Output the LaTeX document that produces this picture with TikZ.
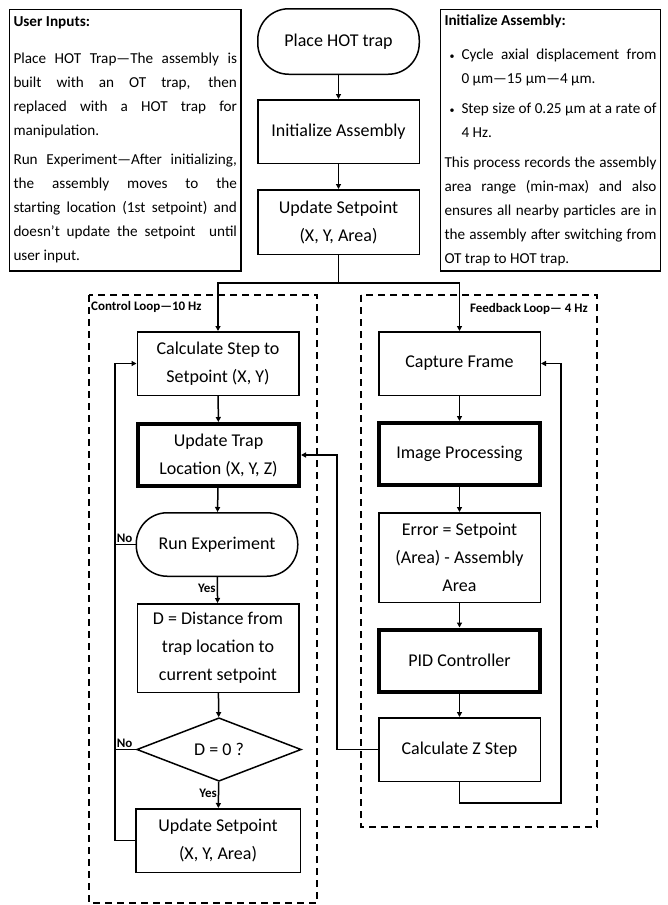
\documentclass[tikz,border=0pt]{standalone}
\usepackage{fontspec}
\setmainfont{Carlito}
\usetikzlibrary{arrows.meta,positioning,shapes.geometric}

\newcommand{\dotitem}{\leavevmode\llap{{\fontsize{10}{10}\selectfont\textbullet}\hspace{7pt}}}

\begin{document}
\begin{tikzpicture}[x=1pt,y=-1pt,
  box/.style={draw,line width=1.5pt,minimum width=161.5pt,minimum height=63.5pt,
              inner sep=0pt,align=center,font=\fontsize{18}{28}\selectfont},
  heavy/.style={box,line width=4pt,minimum width=161pt,minimum height=62pt},
  term/.style={box,rounded corners=31pt},
  decide/.style={box,diamond,aspect=2.5,minimum width=164.5pt,minimum height=63.5pt},
  note/.style={draw,line width=1.5pt,inner xsep=4pt,inner ysep=0pt,align=justify,
               anchor=north west,font=\fontsize{15.2}{24}\selectfont},
  loopbox/.style={line width=1.8pt,dash pattern=on 7pt off 5pt},
  tag/.style={inner sep=1pt,font=\bfseries\fontsize{13}{15}\selectfont},
  arr/.style={line width=1.5pt,-{Triangle[length=5pt,width=5pt]}},
  wire/.style={line width=1.5pt}]
  \useasboundingbox (0,0) rectangle (668,905);

  % side notes
  \node[note,text width=223.5pt,minimum height=261.5pt] (inputs) at (8.75,8.75)
    {\parindent=0pt\hyphenpenalty=10000\exhyphenpenalty=10000
     \textbf{User Inputs:}\\[13pt]
     Place HOT Trap—The assembly is\linebreak built with an OT trap, then\linebreak replaced with a HOT trap for\linebreak manipulation.\\[5pt]
     Run Experiment—After initializing,\linebreak the assembly moves to the\linebreak starting location (1st setpoint) and\linebreak doesn’t update the setpoint~ until\linebreak user input.};
  \node[note,text width=212pt,minimum height=261.5pt] (initnote) at (439.75,8.75)
    {\parindent=0pt\hyphenpenalty=10000\exhyphenpenalty=10000
     \textbf{Initialize Assembly:}\par\vspace{10pt}
     {\leftskip=17pt\dotitem Cycle axial displacement from\linebreak 0~µm—15~µm—4~µm.\par}\vspace{6pt}
     {\leftskip=17pt\dotitem Step size of 0.25~µm at a rate of\linebreak 4~Hz.\par}\vspace{6pt}
     This process records the assembly\linebreak area range (min-max) and also\linebreak ensures all nearby particles are in\linebreak the assembly after switching from\linebreak OT trap to HOT trap.};

  % main column
  \node[term,minimum height=65.5pt] (place) at (338.5,41.5) {Place HOT trap};
  \node[box] (init) at (338.5,131.5) {Initialize Assembly};
  \node[box,minimum height=64.5pt] (setp) at (338.5,222) {Update Setpoint\\(X, Y, Area)};
  \coordinate (split) at (338.5,283);

  % control loop
  \draw[loopbox] (89,295) rectangle (317,903);
  \node[tag,anchor=north west] (ctltag) at (90,300) {Control Loop—10 Hz};
  \node[box] (calc) at (218,363.5) {Calculate Step to\\Setpoint (X, Y)};
  \node[heavy] (upd) at (218.5,455) {Update Trap\\Location (X, Y, Z)};
  \node[term] (run) at (217,544.5) {Run Experiment};
  \node[box,minimum height=88.5pt] (dist) at (218,648) {D = Distance from\\trap location to\\current setpoint};
  \node[decide] (dec) at (219,749.5) {D = 0 ?};
  \node[box,minimum width=164.5pt] (setp2) at (218,840.5) {Update Setpoint\\(X, Y, Area)};
  \coordinate (lbus) at (115,0);

  % feedback loop
  \draw[loopbox] (361,295) rectangle (597,827);
  \node[tag,anchor=east] (fbtag) at (589,309) {Feedback Loop— 4 Hz};
  \node[box] (cap) at (459.5,363.5) {Capture Frame};
  \node[heavy] (img) at (459.5,454) {Image Processing};
  \node[box,minimum height=89.5pt] (err) at (459.5,557.5) {Error = Setpoint\\(Area) - Assembly\\Area};
  \node[heavy] (pid) at (459.5,660.5) {PID Controller};
  \node[box] (zstep) at (459.5,749.5) {Calculate Z Step};
  \coordinate (rbus) at (561,803);
  \coordinate (mbus) at (337,0);

  \draw[arr] (place) -- (init);
  \draw[arr] (init) -- (setp);
  \draw[wire] (setp.south) -- (split);
  \draw[arr] (split) -| (calc.north);
  \draw[arr] (split) -| (cap.north);

  \draw[arr] (calc) -- (upd);
  \draw[arr] (upd) -- (run);
  \draw[arr] (run) -- node[tag,anchor=east,pos=0.45] (yes1) {Yes} (dist);
  \draw[arr] (dist) -- (dec);
  \draw[arr] (dec) -- node[tag,anchor=east,pos=0.45] (yes2) {Yes} (setp2);
  \draw[arr] (setp2.west) -- (setp2.west -| lbus) |- (calc.west);
  \draw[wire] (run.west) -- (run.west -| lbus) node[tag,anchor=south west] (no1) {No};
  \draw[wire] (dec.west) -- (dec.west -| lbus) node[tag,anchor=south west] (no2) {No};

  \draw[arr] (cap) -- (img);
  \draw[arr] (img) -- (err);
  \draw[arr] (err) -- (pid);
  \draw[arr] (pid) -- (zstep);
  \draw[arr] (zstep.south) |- (rbus) |- (cap.east);
  \draw[arr] (zstep.west) -- (zstep.west -| mbus) |- (upd.east);
\end{tikzpicture}
\end{document}
